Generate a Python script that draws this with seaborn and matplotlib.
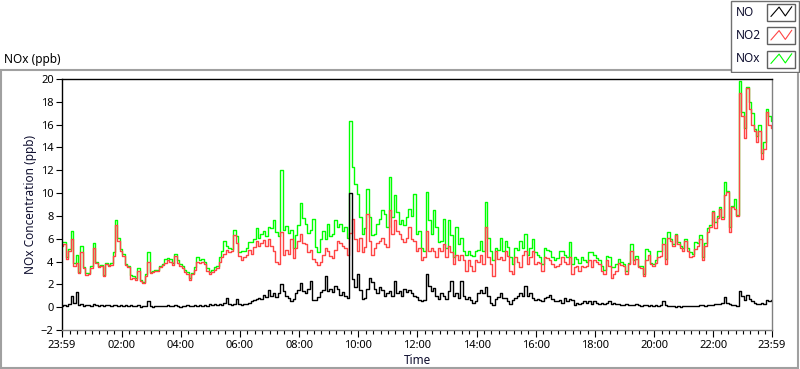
import numpy as np
import pandas as pd
import matplotlib
matplotlib.use("Agg")
import matplotlib.pyplot as plt
from matplotlib.patches import Rectangle
from matplotlib.ticker import MultipleLocator
import seaborn as sns

# Sampling of the series: first sample at 23:59 of the previous day, one every 5 min
START_MIN = -1
STEP_MIN = 5

# NO2 (ppb)
no2_ppb = [
    5.4, 5.5, 4.2, 4.9, 6.0, 3.6, 3.9, 3.0, 4.8, 3.4, 2.8, 2.9,
    3.4, 5.2, 3.9, 3.5, 3.6, 2.7, 3.8, 3.6, 3.7, 4.5, 7.2, 5.8,
    4.9, 4.5, 3.7, 3.5, 2.5, 2.6, 2.4, 3.2, 2.3, 2.1, 2.7, 4.0,
    3.0, 3.1, 3.2, 3.2, 3.5, 3.7, 3.9, 4.1, 4.0, 3.7, 4.5, 3.9,
    3.6, 3.4, 3.1, 2.9, 2.4, 2.9, 3.3, 4.0, 3.9, 4.0, 3.8, 3.2,
    2.9, 3.1, 3.3, 3.4, 4.0, 4.4, 4.7, 5.0, 4.8, 4.9, 6.3, 5.6,
    4.5, 4.1, 4.4, 4.6, 5.0, 4.7, 5.3, 5.8, 5.4, 5.6, 5.9, 5.4,
    6.0, 5.4, 4.9, 4.0, 3.8, 6.6, 4.6, 5.0, 4.7, 6.0, 4.3, 5.2,
    5.8, 6.4, 5.6, 5.5, 4.8, 5.0, 4.2, 4.0, 3.7, 4.0, 4.6, 5.2,
    4.9, 4.5, 4.3, 5.0, 5.8, 5.6, 5.4, 5.2, 4.6, 6.5, 7.7, 6.0,
    4.9, 6.1, 4.8, 5.3, 8.2, 5.8, 4.6, 5.2, 5.6, 5.8, 6.1, 5.5,
    5.3, 8.5, 6.4, 7.6, 6.7, 6.4, 6.0, 5.7, 6.1, 7.0, 6.0, 5.8,
    4.9, 5.2, 4.1, 4.4, 6.7, 4.9, 5.2, 4.9, 4.4, 5.2, 4.9, 5.5,
    4.4, 5.4, 4.8, 3.8, 4.6, 4.1, 4.6, 4.1, 3.2, 4.1, 3.6, 3.2,
    4.1, 4.0, 4.6, 3.8, 7.0, 4.4, 3.8, 2.7, 4.9, 4.2, 4.4, 4.1,
    4.9, 4.5, 3.2, 2.9, 4.4, 4.0, 3.5, 4.6, 4.9, 3.8, 4.4, 4.9,
    3.8, 4.0, 3.9, 3.2, 4.4, 4.3, 4.1, 3.8, 3.5, 3.6, 3.8, 4.4,
    4.0, 3.8, 4.4, 2.9, 3.5, 3.6, 3.2, 3.6, 3.5, 3.6, 4.1, 3.5,
    4.1, 4.0, 3.8, 3.2, 2.9, 4.1, 3.6, 2.6, 2.9, 3.2, 3.9, 3.7,
    3.6, 2.9, 3.8, 4.9, 3.8, 4.2, 3.5, 3.4, 2.7, 4.1, 4.6, 3.8,
    3.6, 3.9, 4.4, 4.5, 5.5, 3.8, 6.1, 5.8, 5.4, 6.3, 5.5, 5.2,
    4.9, 5.8, 4.9, 4.4, 4.5, 5.1, 5.4, 6.0, 4.1, 5.4, 6.6, 7.0,
    8.3, 6.9, 7.8, 8.6, 7.7, 9.8, 10.1, 6.6, 8.8, 8.6, 8.0, 18.8,
    16.8, 14.8, 19.2, 17.4, 16.0, 15.4, 14.5, 15.4, 13.0, 13.9, 17.1, 16.0,
    15.7,
]

# NOx (ppb)
nox_ppb = [
    5.7, 5.7, 4.4, 5.1, 6.7, 3.9, 4.6, 3.1, 5.4, 3.5, 3.0, 3.0,
    3.6, 5.6, 4.0, 3.6, 3.7, 2.8, 3.9, 3.7, 3.9, 4.8, 7.6, 6.1,
    5.1, 4.7, 3.8, 3.6, 2.8, 2.7, 2.6, 3.4, 2.4, 2.2, 2.9, 4.8,
    3.1, 3.2, 3.3, 3.3, 3.6, 3.8, 4.2, 4.3, 4.2, 3.9, 4.7, 4.1,
    3.8, 3.6, 3.3, 3.1, 2.6, 3.0, 3.5, 4.4, 4.1, 4.2, 4.0, 3.4,
    3.1, 3.3, 3.5, 3.6, 4.4, 4.9, 5.8, 5.4, 5.2, 5.1, 6.8, 6.2,
    4.8, 4.9, 4.9, 5.2, 5.7, 5.7, 6.0, 6.9, 6.1, 6.4, 6.7, 6.2,
    7.0, 6.9, 7.6, 6.6, 6.2, 12.0, 6.8, 7.1, 6.5, 6.8, 5.2, 6.3,
    7.2, 9.1, 7.8, 7.3, 6.5, 6.8, 7.7, 5.3, 4.8, 6.0, 6.7, 6.0,
    7.3, 6.2, 6.4, 7.6, 7.0, 7.3, 6.7, 7.0, 6.1, 16.3, 12.3, 10.8,
    9.9, 7.9, 6.4, 6.9, 10.4, 7.9, 6.3, 6.4, 7.3, 7.7, 8.5, 8.2,
    7.0, 11.4, 7.9, 9.8, 8.3, 7.3, 7.6, 7.2, 7.9, 8.6, 8.0, 9.9,
    6.4, 6.7, 5.2, 4.9, 10.1, 7.6, 6.4, 8.5, 7.0, 5.7, 5.8, 7.7,
    5.2, 7.6, 6.3, 4.4, 7.0, 5.5, 6.1, 4.9, 4.6, 4.9, 4.6, 4.5,
    4.9, 5.0, 5.8, 4.9, 9.2, 6.1, 4.9, 4.1, 5.2, 5.0, 6.1, 4.9,
    5.8, 5.3, 4.4, 3.8, 5.2, 5.0, 5.8, 5.2, 6.4, 4.6, 5.2, 6.0,
    4.8, 4.6, 4.4, 3.8, 5.2, 5.0, 4.9, 4.4, 4.1, 4.3, 4.9, 4.9,
    4.6, 4.4, 5.7, 3.8, 4.4, 4.2, 3.9, 4.4, 4.1, 4.0, 4.8, 4.8,
    4.6, 4.3, 4.1, 3.6, 3.3, 4.5, 4.4, 3.5, 3.5, 3.8, 4.2, 4.0,
    3.8, 3.2, 3.9, 5.5, 4.1, 4.5, 3.6, 3.6, 2.9, 5.1, 4.9, 3.9,
    3.8, 4.1, 4.9, 4.9, 6.1, 4.2, 6.6, 6.0, 5.5, 6.4, 5.7, 5.4,
    5.2, 6.0, 5.2, 4.8, 4.7, 5.7, 5.6, 6.3, 4.4, 5.6, 6.9, 7.2,
    8.4, 7.5, 8.0, 8.8, 7.9, 11.0, 10.2, 7.0, 8.9, 9.5, 8.1, 19.8,
    17.1, 15.7, 19.3, 18.0, 17.0, 15.6, 15.0, 16.0, 13.5, 14.5, 17.4, 16.8,
    16.3,
]

# NO (ppb)
no_ppb = [
    0.1, 0.2, 0.1, 0.3, 1.0, 0.4, 1.3, 0.2, 0.3, 0.1, 0.2, 0.2,
    0.1, 0.3, 0.2, 0.1, 0.2, 0.1, 0.2, 0.2, 0.1, 0.2, 0.2, 0.1,
    0.2, 0.1, 0.2, 0.1, 0.2, 0.1, 0.1, 0.2, 0.0, 0.1, 0.1, 0.5,
    0.1, 0.0, 0.1, 0.1, 0.1, 0.1, 0.1, 0.2, 0.1, 0.1, 0.2, 0.1,
    0.0, 0.1, 0.1, 0.2, 0.1, 0.1, 0.2, 0.1, 0.2, 0.1, 0.2, 0.1,
    0.3, 0.2, 0.3, 0.2, 0.3, 0.2, 0.4, 0.8, 0.3, 0.2, 0.3, 0.7,
    0.3, 0.2, 0.3, 0.3, 0.4, 0.5, 0.6, 0.7, 0.8, 0.7, 1.1, 0.9,
    1.5, 1.0, 1.2, 0.9, 1.2, 2.0, 1.4, 1.0, 0.8, 0.5, 0.7, 1.2,
    1.5, 2.1, 1.4, 1.2, 1.6, 2.3, 0.6, 0.6, 0.9, 1.3, 1.5, 2.7,
    1.4, 1.6, 1.3, 1.9, 1.6, 1.1, 1.3, 1.0, 0.8, 10.0, 2.5, 1.8,
    2.9, 1.5, 0.7, 0.8, 1.6, 2.6, 2.2, 1.6, 1.2, 1.8, 1.5, 1.0,
    1.2, 1.4, 1.0, 2.3, 1.2, 1.4, 1.0, 1.6, 1.3, 1.5, 1.2, 1.0,
    0.9, 0.6, 0.5, 0.6, 2.9, 1.9, 1.4, 1.7, 1.0, 0.7, 1.2, 1.0,
    0.7, 1.4, 2.3, 1.0, 1.2, 0.8, 2.3, 1.0, 0.7, 0.9, 0.6, 0.4,
    0.5, 1.2, 1.5, 1.2, 1.8, 1.0, 0.4, 0.2, 0.7, 0.9, 1.2, 0.8,
    0.8, 0.5, 0.3, 0.6, 0.8, 1.0, 1.2, 1.0, 1.9, 1.0, 1.2, 0.8,
    0.6, 0.7, 0.6, 0.5, 0.8, 0.9, 1.1, 0.7, 0.5, 0.5, 0.6, 0.4,
    0.8, 0.5, 0.7, 0.6, 0.2, 0.4, 0.3, 0.4, 0.5, 0.4, 0.5, 0.3,
    0.5, 0.4, 0.3, 0.4, 0.3, 0.4, 0.5, 0.3, 0.4, 0.3, 0.3, 0.2,
    0.2, 0.3, 0.2, 0.2, 0.2, 0.3, 0.2, 0.1, 0.2, 0.2, 0.1, 0.2,
    0.1, 0.2, 0.1, 0.2, 0.5, 0.2, 0.1, 0.1, 0.1, 0.0, 0.1, 0.0,
    0.1, 0.1, 0.1, 0.1, 0.1, 0.1, 0.1, 0.2, 0.2, 0.1, 0.2, 0.2,
    0.2, 0.3, 0.3, 0.3, 0.4, 0.9, 0.4, 0.3, 0.2, 0.2, 0.1, 1.4,
    1.0, 0.6, 1.1, 0.7, 0.5, 0.4, 0.3, 0.3, 0.4, 0.3, 0.6, 0.5,
    0.6,
]

series_names = ["NO", "NO2", "NOx"]
series_colors = {"NO": "#000000", "NO2": "#ff4545", "NOx": "#00ff00"}
x_tick_hours = [-1 / 60, 2, 4, 6, 8, 10, 12, 14, 16, 18, 20, 22, 24 - 1 / 60]
x_tick_labels = ["23:59", "02:00", "04:00", "06:00", "08:00", "10:00", "12:00",
                 "14:00", "16:00", "18:00", "20:00", "22:00", "23:59"]
y_ticks = list(range(-2, 21, 2))

n = len(no2_ppb)
hours = (START_MIN + STEP_MIN * np.arange(n)) / 60.0
df = pd.DataFrame({
    "hours": np.tile(hours, 3),
    "ppb": np.concatenate([nox_ppb, no2_ppb, no_ppb]),
    "species": np.repeat(["NOx", "NO2", "NO"], n),
})

sns.set_style("white")
plt.rcParams["font.family"] = ["Noto Sans", "DejaVu Sans"]

W, H = 800, 369
fig = plt.figure(figsize=(W / 100, H / 100), dpi=100)

# outer panel frame and caption, laid out in pixel units
bg = fig.add_axes([0, 0, 1, 1])
bg.set_xlim(0, W)
bg.set_ylim(H, 0)
bg.axis("off")
bg.add_patch(Rectangle((1, 69.5), 797, 298, fill=False, edgecolor="#a0a0a0", lw=1.5))
bg.text(4, 59, "NOx (ppb)", fontsize=8.5, va="center", ha="left", color="#000000")

# main plot
ax = fig.add_axes([62 / W, 1 - 330 / H, 710 / W, 251 / H])
sns.lineplot(data=df, x="hours", y="ppb", hue="species",
             hue_order=["NOx", "NO2", "NO"], palette=series_colors,
             estimator=None, sort=False, legend=False,
             linewidth=1.0, drawstyle="steps-mid", ax=ax)

ax.set_xlim(hours[0], hours[-1])
ax.set_ylim(-2, 20)
ax.set_yticks(y_ticks)
ax.set_xticks(x_tick_hours)
ax.set_xticklabels(x_tick_labels)
ax.xaxis.set_minor_locator(MultipleLocator(0.25))
ax.tick_params(axis="x", which="major", bottom=True, length=5, width=0.8,
               direction="out", pad=2, labelsize=8, colors="#000000")
ax.tick_params(axis="x", which="minor", bottom=True, length=3, width=0.8,
               direction="out", colors="#000000")
ax.tick_params(axis="y", which="major", left=True, length=4, width=0.8,
               direction="out", pad=2, labelsize=8, colors="#000000")
for side in ["top", "left"]:
    ax.spines[side].set_color("#000000")
    ax.spines[side].set_linewidth(1.0)
for side in ["right", "bottom"]:
    ax.spines[side].set_color("#808080")
    ax.spines[side].set_linewidth(1.0)
ax.set_xlabel("Time", fontsize=8.5, labelpad=2, color="#101030")
ax.set_ylabel("NOx Concentration (ppb)", fontsize=8.5, labelpad=3, color="#101030")

# legend panel at top right
lg = fig.add_axes([730 / W, 1 - 73 / H, 70 / W, 73 / H])
lg.set_xlim(0, 70)
lg.set_ylim(73, 0)
lg.axis("off")
lg.add_patch(Rectangle((0.5, 0.5), 68.5, 71.5, facecolor="white",
                       edgecolor="#707070", lw=1.0))
zig_x = [0.08, 0.42, 0.68, 0.95]
zig_y = [0.82, 0.15, 0.78, 0.12]
for k, name in enumerate(series_names):
    yc = 12 + k * 23.5
    lg.text(6, yc, name, fontsize=8.5, va="center", ha="left", color="#101030")
    bx, by, bw, bh = 37, yc - 8.5, 28, 17
    lg.add_patch(Rectangle((bx, by), bw, bh, facecolor="white",
                           edgecolor="#606060", lw=1.0))
    lg.plot([bx + 2 + f * (bw - 4) for f in zig_x],
            [by + 1.5 + f * (bh - 3) for f in zig_y],
            color=series_colors[name], lw=0.8)

fig.savefig("out.png", dpi=100)
